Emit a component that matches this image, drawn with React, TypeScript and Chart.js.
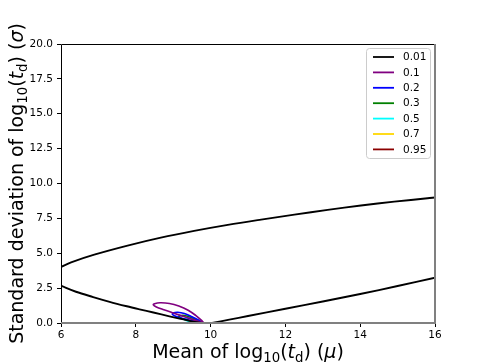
import React, { useEffect, useRef } from "react";
import { Chart, registerables } from "chart.js";

Chart.register(...registerables);

// ---- data ----
const levels = ["0.01", "0.1", "0.2", "0.3", "0.5", "0.7", "0.95"];
const colors = ["#000000", "#800080", "#0000ff", "#008000", "#00ffff", "#ffd700", "#8b0000"];
const xTicks = [6, 8, 10, 12, 14, 16];
const yTicks = [0, 2.5, 5, 7.5, 10, 12.5, 15, 17.5, 20];

// level 0.01 (three visible branches)
const muUpper = [6, 6.27, 6.89, 7.78, 8.67, 9.56, 10.46, 11.35, 12.24, 13.13, 14.02, 14.91, 15.8, 16];
const sigUpper = [4.02, 4.35, 4.9, 5.55, 6.12, 6.6, 7.03, 7.41, 7.77, 8.11, 8.42, 8.7, 8.94, 9.0];
const muLowerLeft = [6, 6.4, 6.86, 7.3, 7.76, 8.1, 8.47, 8.9, 9.2, 9.5, 9.75];
const sigLowerLeft = [2.67, 2.24, 1.86, 1.52, 1.2, 0.98, 0.75, 0.48, 0.3, 0.12, 0];
const muLowerRight = [10.04, 10.5, 11.0, 12.0, 13.0, 14.0, 15.0, 16.0];
const sigLowerRight = [0, 0.24, 0.5, 1.02, 1.54, 2.08, 2.65, 3.25];

// closed contours
const mu01 = [9.82, 9.75, 9.6, 9.4, 9.15, 8.9, 8.65, 8.5, 8.47, 8.55, 8.75, 9.0, 9.3, 9.55, 9.75, 9.82];
const sig01 = [0.0, 0.2, 0.55, 0.92, 1.22, 1.4, 1.45, 1.38, 1.3, 1.15, 0.95, 0.72, 0.45, 0.22, 0.05, 0.0];
const mu02 = [9.8, 9.7, 9.5, 9.3, 9.12, 9.0, 8.98, 9.05, 9.25, 9.5, 9.7, 9.8];
const sig02 = [0.0, 0.18, 0.45, 0.68, 0.77, 0.72, 0.62, 0.5, 0.32, 0.15, 0.04, 0.0];
const mu03 = [9.78, 9.68, 9.5, 9.3, 9.18, 9.15, 9.25, 9.45, 9.65, 9.78];
const sig03 = [0, 0.15, 0.38, 0.54, 0.52, 0.44, 0.3, 0.15, 0.04, 0];
const mu05 = [9.76, 9.65, 9.5, 9.38, 9.3, 9.35, 9.5, 9.65, 9.76];
const sig05 = [0, 0.14, 0.3, 0.35, 0.28, 0.18, 0.08, 0.02, 0];
const mu07 = [9.74, 9.62, 9.5, 9.45, 9.52, 9.65, 9.74];
const sig07 = [0, 0.12, 0.18, 0.14, 0.07, 0.02, 0];
const mu095 = [9.72, 9.65, 9.6, 9.63, 9.72];
const sig095 = [0, 0.06, 0.05, 0.02, 0];

const pts = (xs: number[], ys: number[]) => xs.map((x, i) => ({ x, y: ys[i] as number | null }));
const gap = { x: 10, y: null as number | null };

const FONT = "'DejaVu Sans', sans-serif";

type Part = { t: string; sub?: boolean; it?: boolean };
const xTitle: Part[] = [
  { t: "Mean of log" }, { t: "10", sub: true }, { t: "(" }, { t: "t", it: true }, { t: "d", sub: true },
  { t: ") (" }, { t: "μ", it: true }, { t: ")" },
];
const yTitle: Part[] = [
  { t: "Standard deviation of log" }, { t: "10", sub: true }, { t: "(" }, { t: "t", it: true }, { t: "d", sub: true },
  { t: ") (" }, { t: "σ", it: true }, { t: ")" },
];

function drawRich(ctx: CanvasRenderingContext2D, parts: Part[], size: number) {
  const fontFor = (p: Part) => `${p.it ? "italic " : ""}${p.sub ? size * 0.7 : size}px ${FONT}`;
  let total = 0;
  const widths = parts.map((p) => {
    ctx.font = fontFor(p);
    const w = ctx.measureText(p.t).width;
    total += w;
    return w;
  });
  let x = -total / 2;
  ctx.textBaseline = "alphabetic";
  ctx.textAlign = "left";
  parts.forEach((p, i) => {
    ctx.font = fontFor(p);
    ctx.fillText(p.t, x, p.sub ? size * 0.22 : 0);
    x += widths[i];
  });
}

const decorPlugin = {
  id: "decor",
  afterDatasetsDraw(chart: any) {
    const { ctx, chartArea: a } = chart;
    ctx.save();
    // spines
    ctx.lineWidth = 1;
    ctx.strokeStyle = "#000";
    ctx.beginPath();
    ctx.moveTo(a.left + 0.5, a.bottom);
    ctx.lineTo(a.left + 0.5, a.top + 0.5);
    ctx.lineTo(a.right, a.top + 0.5);
    ctx.stroke();
    ctx.strokeStyle = "#808080";
    ctx.lineWidth = 2;
    ctx.beginPath();
    ctx.moveTo(a.right, a.top);
    ctx.lineTo(a.right, a.bottom);
    ctx.lineTo(a.left, a.bottom);
    ctx.stroke();

    // legend
    const lx = 366.5, ly = 48.5, lw = 64, lh = 110;
    ctx.fillStyle = "rgba(255,255,255,0.8)";
    ctx.strokeStyle = "#cccccc";
    ctx.lineWidth = 1;
    ctx.beginPath();
    (ctx as any).roundRect(lx, ly, lw, lh, 3);
    ctx.fill();
    ctx.stroke();
    ctx.font = `10.5px ${FONT}`;
    ctx.textBaseline = "middle";
    ctx.textAlign = "left";
    chart.data.datasets.forEach((ds: any, i: number) => {
      const y = 57 + i * 15.4;
      ctx.strokeStyle = ds.borderColor;
      ctx.lineWidth = 1.8;
      ctx.beginPath();
      ctx.moveTo(373, y);
      ctx.lineTo(394, y);
      ctx.stroke();
      ctx.fillStyle = "#000";
      ctx.fillText(ds.label, 403, y + 0.5);
    });

    // axis titles
    ctx.fillStyle = "#000";
    ctx.save();
    ctx.translate((a.left + a.right) / 2, 358);
    drawRich(ctx, xTitle, 19);
    ctx.restore();
    ctx.save();
    ctx.translate(23, (a.top + a.bottom) / 2);
    ctx.rotate(-Math.PI / 2);
    drawRich(ctx, yTitle, 19);
    ctx.restore();
    ctx.restore();
  },
};

export default function App() {
  const ref = useRef<HTMLCanvasElement | null>(null);
  useEffect(() => {
    if (!ref.current) return;
    const series = [
      [...pts(muUpper, sigUpper), gap, ...pts(muLowerLeft, sigLowerLeft), gap, ...pts(muLowerRight, sigLowerRight)],
      pts(mu01, sig01),
      pts(mu02, sig02),
      pts(mu03, sig03),
      pts(mu05, sig05),
      pts(mu07, sig07),
      pts(mu095, sig095),
    ];
    const chart = new Chart(ref.current, {
      type: "scatter",
      data: {
        datasets: series.map((d, i) => ({
          label: levels[i],
          data: d,
          showLine: true,
          spanGaps: false,
          borderColor: colors[i],
          backgroundColor: colors[i],
          borderWidth: i === 0 ? 1.9 : 1.7,
          pointRadius: 0,
          pointHoverRadius: 0,
          tension: 0.35,
        })),
      },
      options: {
        animation: false,
        responsive: false,
        events: [],
        layout: { padding: { left: 0, top: 44, right: 49, bottom: 0 } },
        plugins: { legend: { display: false }, tooltip: { enabled: false } },
        scales: {
          x: {
            type: "linear",
            min: 6,
            max: 16,
            afterBuildTicks: (s: any) => { s.ticks = xTicks.map((v) => ({ value: v })); },
            afterFit: (s: any) => { s.height = 40; },
            grid: { display: true, drawOnChartArea: false, drawTicks: true, tickLength: 4, color: "#000" },
            border: { display: false },
            ticks: { color: "#000", font: { family: FONT, size: 10.5 }, padding: 2, maxRotation: 0 },
          },
          y: {
            type: "linear",
            min: 0,
            max: 20,
            afterBuildTicks: (s: any) => { s.ticks = yTicks.map((v) => ({ value: v })); },
            afterFit: (s: any) => { s.width = 61; },
            grid: { display: true, drawOnChartArea: false, drawTicks: true, tickLength: 4, color: "#000" },
            border: { display: false },
            ticks: {
              color: "#000",
              font: { family: FONT, size: 10.5 },
              padding: 4,
              callback: (v: any) => Number(v).toFixed(1),
            },
          },
        },
      },
      plugins: [decorPlugin],
    });
    return () => chart.destroy();
  }, []);
  return (
    <div style={{ position: "fixed", left: 0, top: 0, width: 484, height: 363, background: "#fff" }}>
      <canvas ref={ref} width={484} height={363} />
    </div>
  );
}
